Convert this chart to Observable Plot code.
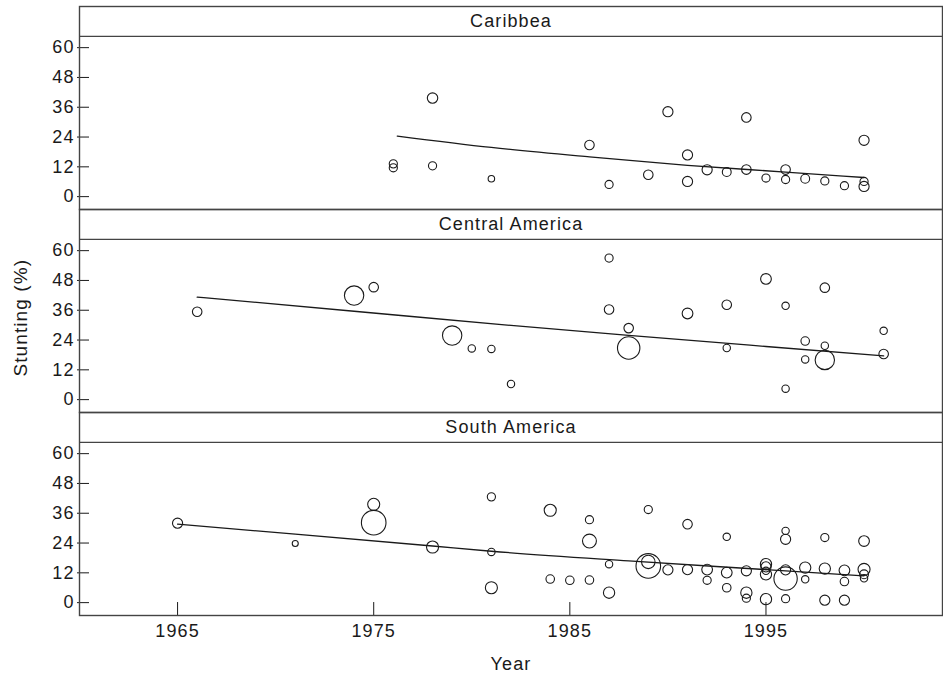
<!DOCTYPE html>
<html>
<head>
<meta charset="utf-8">
<script src="https://cdn.jsdelivr.net/npm/d3@7"></script>
<script src="https://cdn.jsdelivr.net/npm/@observablehq/plot@0.6"></script>
<style>
  html, body { margin: 0; padding: 0; background: #fff; }
  #chart svg { display: block; }
</style>
</head>
<body>
<div id="chart"></div>
<script>
// ---------- data ----------
const regions = ["Caribbea", "Central America", "South America"];

const caribYear   = [1976,1976,1978,1978,1981,1986,1987,1989,1990,1991,1991,1992,1993,1994,1994,1995,1996,1996,1997,1998,1999,2000,2000,2000];
const caribValue  = [13.2,11.6,39.7,12.4,7.2,20.8,4.9,8.8,34.2,16.8,6.1,10.8,9.9,31.9,10.9,7.5,10.9,6.9,7.2,6.3,4.4,22.7,6.1,4.1];
const caribWeight = [11,11,18,11,7,15,11,15,17,17,17,17,13,15,15,11,15,11,13,11,11,17,11,17];

const centralYear   = [1966,1974,1975,1979,1980,1981,1982,1987,1987,1988,1988,1991,1993,1993,1995,1996,1996,1997,1997,1998,1998,1998,2001,2001];
const centralValue  = [35.4,41.9,45.3,25.8,20.6,20.4,6.3,57.0,36.3,28.8,20.8,34.7,38.2,20.8,48.6,37.8,4.4,23.6,16.2,45.1,21.7,16.0,27.7,18.4];
const centralWeight = [15,62,15,62,9,9,9,11,15,15,83,19,15,9,19,9,9,12,9,15,9,62,9,15];

const southYear   = [1965,1971,1975,1975,1978,1981,1981,1981,1984,1984,1985,1986,1986,1986,1987,1987,1989,1989,1989,1990,1991,1991,1992,1992,1993,1993,1993,1994,1994,1994,1995,1995,1995,1995,1995,1996,1996,1996,1996,1996,1997,1997,1998,1998,1998,1999,1999,1999,2000,2000,2000,2000];
const southValue  = [32.0,23.8,39.6,32.2,22.4,42.6,20.4,6.0,37.2,9.5,9.0,33.4,24.8,9.1,15.5,4.0,37.5,16.4,14.8,13.2,31.6,13.3,13.3,9.0,26.5,12.1,6.0,12.8,4.0,1.8,15.5,14.4,12.8,11.4,1.4,28.9,25.5,13.2,9.7,1.6,14.1,9.4,26.2,13.7,1.0,13.0,8.5,1.0,24.8,13.4,11.4,9.8];
const southWeight = [17,6,24,100,24,11,9,24,24,12,12,11,32,12,9,21,11,30,100,17,15,17,19,11,9,19,12,17,21,11,21,17,9,21,21,9,17,17,90,11,21,9,11,21,17,19,12,17,19,24,13,9];

// fitted trend lines
const caribFitYear    = [1976.2,1981,1986,1991,1996,2000];
const caribFitValue   = [24.4,19.8,16.0,12.6,9.9,7.7];
const centralFitYear  = [1966,1974,1982,1988,1995,2001];
const centralFitValue = [41.3,35.6,29.9,25.9,21.4,17.6];
const southFitYear    = [1965,1971,1978,1981,1988,1995,2000];
const southFitValue   = [31.6,27.6,22.8,20.7,16.8,13.3,10.8];

const yTicks = [0, 12, 24, 36, 48, 60];
const xTicks = [1965, 1975, 1985, 1995];
const xLabel = "Year";
const yLabel = "Stunting (%)";

// ---------- build tables ----------
function rows(region, ys, vs, ws) {
  return ys.map((y, i) => ({region, year: y, value: vs[i], weight: ws ? ws[i] : undefined}));
}
const points = [
  ...rows(regions[0], caribYear, caribValue, caribWeight),
  ...rows(regions[1], centralYear, centralValue, centralWeight),
  ...rows(regions[2], southYear, southValue, southWeight)
];
const fits = [
  ...rows(regions[0], caribFitYear, caribFitValue),
  ...rows(regions[1], centralFitYear, centralFitValue),
  ...rows(regions[2], southFitYear, southFitValue)
];

// ---------- layout ----------
const W = 943, H = 682;
const mL = 79, mR = 1, mT = 5, mB = 66;
const plotW = W - mL - mR;
const yBot = -5.18, yTop = 76.57;          // each facet: strip on top + panel
const stripBottom = 64.53;                 // lower edge of the strip
const stripMid = (stripBottom + yTop) / 2;
const FONT = "'Liberation Sans', Arial, Helvetica, sans-serif";
const INK = "#1a1a1a";

const chart = Plot.plot({
  width: W,
  height: H,
  marginLeft: mL,
  marginRight: mR,
  marginTop: mT,
  marginBottom: mB,
  style: {fontFamily: FONT, fontSize: "17px", color: INK, background: "#fff", letterSpacing: "1.1px"},
  x: {domain: [1960, 2004], axis: null},
  y: {domain: [yBot, yTop], axis: null},
  fy: {domain: regions, padding: 0, axis: null},
  r: {type: "sqrt", domain: [0, 100], range: [0, 12.3]},
  marks: [
    // strip divider
    Plot.ruleY(regions, {fy: d => d, y: stripBottom, stroke: "#444", strokeWidth: 1.4}),
    // strip labels
    Plot.text(regions, {fy: d => d, text: d => d, x: 1982, y: stripMid, textAnchor: "middle", fontSize: 18, fill: INK}),
    // inner y ticks
    Plot.ruleY(yTicks, {y: d => d, insetRight: plotW - 10, insetLeft: -2, stroke: INK, strokeWidth: 1}),
    // y tick labels
    Plot.text(yTicks, {y: d => d, text: d => String(d), frameAnchor: "left", textAnchor: "end", dx: -5, fontSize: 18, fill: INK}),
    // y label (middle facet)
    Plot.text([yLabel], {fy: () => regions[1], text: d => d, y: 33, frameAnchor: "left", textAnchor: "middle", dx: -59, rotate: -90,
      fontSize: 19, fill: INK}),
    // x ticks (inside, bottom facet)
    Plot.ruleX(xTicks, {x: d => d, fy: () => regions[2], y1: yBot, y2: yBot + 13 / 2.492, stroke: INK, strokeWidth: 1}),
    // x tick labels
    Plot.text(xTicks, {x: d => d, fy: () => regions[2], text: d => String(d), frameAnchor: "bottom", textAnchor: "middle", dy: 21, fontSize: 18, fill: INK}),
    // x label
    Plot.text([xLabel], {fy: () => regions[2], text: d => d, x: 1982, frameAnchor: "bottom", textAnchor: "middle", dy: 54, fontSize: 18, fill: INK}),
    // points
    Plot.dot(points, {x: "year", y: "value", r: "weight", fy: "region", stroke: INK, strokeWidth: 1.1, fill: "none"}),
    // trend lines
    Plot.line(fits, {x: "year", y: "value", fy: "region", z: "region", curve: "monotone-x", stroke: INK, strokeWidth: 1.3}),
    // panel frames
    Plot.frame({stroke: "#444", strokeWidth: 1.4})
  ]
});
document.getElementById("chart").appendChild(chart);
</script>
</body>
</html>
